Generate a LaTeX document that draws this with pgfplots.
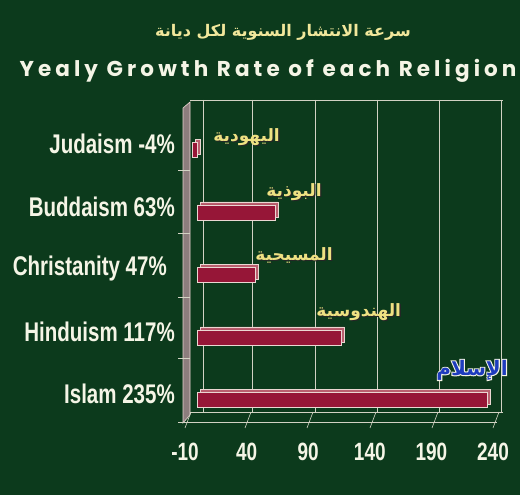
\documentclass[border=0pt]{standalone}
\usepackage{pgfplots}
\pgfplotsset{compat=1.18}
\usepackage{pgfplotstable}
\usepackage{fontspec}
\TeXXeTstate=1
\newfontfamily\nb[FakeStretch=0.76]{Liberation Sans}
\newfontfamily\titlefont[LetterSpace=19]{Poppins}
\newfontfamily\arabicfont[Script=Arabic]{DejaVu Sans}
\newfontfamily\arabichalo[Script=Arabic, FakeBold=10]{DejaVu Sans}

\definecolor{bg}{RGB}{12,58,28}
\definecolor{barfront}{RGB}{150,22,55}
\definecolor{bartop}{RGB}{185,95,110}
\definecolor{edge}{RGB}{235,215,210}
\definecolor{gridc}{RGB}{210,210,195}
\definecolor{wallc}{RGB}{140,125,125}
\definecolor{gold}{RGB}{238,225,130}
\definecolor{cream}{RGB}{245,245,230}
\definecolor{islamblue}{RGB}{30,60,190}

% growth rate per religion (position 0 = bottom bar)
\pgfplotstableread{
pos value
0 235
1 117
2 47
3 63
4 -4
}\growth

\newcommand\arfont{\arabicfont\bfseries\fontsize{17}{17}\selectfont}

% Arabic label with a dark drop shadow
\newcommand\arlabel[3]{%
  \node[text=black!85, font=\arfont]
    at ([xshift=1.3pt,yshift=-1.3pt]#1) {\beginR #3\endR};
  \node[text=#2, font=\arfont] at (#1) {\beginR #3\endR};}

\begin{document}
\begin{tikzpicture}
% background
\fill[bg] (0pt,0pt) rectangle (520pt,495pt);

% titles
\node[text=gold!80!white, font=\arabicfont\bfseries\fontsize{16}{16}\selectfont]
  at (283pt,463pt) {\beginR سرعة الانتشار السنوية لكل ديانة\endR};
\node[text=cream, font=\titlefont\bfseries\fontsize{21.5}{21.5}\selectfont]
  at (268pt,424pt) {Yealy Growth Rate of each Religion};

% 3D frame: left wall, back plane, floor
\filldraw[fill=wallc, draw=edge, line width=0.6pt]
  (183pt,72pt) -- (183pt,387pt) -- (190pt,393pt) -- (190pt,80pt) -- cycle;
\foreach \yy in {325,262,198,137}
  \draw[gridc, line width=0.6pt] (178pt,\yy pt) -- (190pt,\yy pt);
\draw[gridc, line width=0.8pt] (190pt,395pt) -- (503pt,395pt);
\foreach \xx in {203,252,315,377,439,501}
  \draw[gridc, line width=0.8pt] (\xx pt,395pt) -- (\xx pt,83pt);
\draw[gridc, line width=0.8pt] (190pt,83pt) -- (503pt,83pt);
\draw[gridc, line width=0.8pt] (178pt,73pt) -- (497pt,73pt);
\foreach \xx in {185,245,307,370,432,493}
  \draw[gridc, line width=0.6pt] (\xx pt,67pt) -- (\xx pt+6pt,83pt);

\begin{axis}[
  at={(185pt,75pt)}, anchor=south west,
  scale only axis, width=308pt, height=317pt,
  xmin=-10, xmax=240, ymin=-0.32, ymax=4.752,
  axis line style={draw=none}, major tick style={draw=none},
  xtick={-10,40,90,140,190,240},
  ytick={0,1,2,3,4},
  yticklabels={Islam 235\%, Hinduism 117\%, Christanity 47\%\kern8pt, Buddaism 63\%, Judaism -4\%},
  xticklabel style={font=\nb\bfseries\fontsize{25}{25}\selectfont, text=cream,
    inner sep=0pt, anchor=north, yshift=-23pt},
  yticklabel style={font=\nb\bfseries\fontsize{27}{27}\selectfont, text=cream,
    inner sep=0pt, anchor=east, xshift=-10pt, yshift=6pt},
  /pgf/number format/assume math mode=true,
  clip=false,
]
% depth face of each bar
\addplot[xbar, bar shift=0pt, bar width=15pt, fill=bartop, draw=edge,
  line width=0.6pt, xshift=3pt, yshift=3pt] table[x=value, y=pos] {\growth};
% front face of each bar
\addplot[xbar, bar shift=0pt, bar width=15pt, fill=barfront, draw=edge,
  line width=0.6pt] table[x=value, y=pos] {\growth};

\arlabel{axis cs:40,4.21}{gold}{اليهودية}
\arlabel{axis cs:78.5,3.33}{gold}{البوذية}
\arlabel{axis cs:78.5,2.32}{gold}{المسيحية}
\arlabel{axis cs:131,1.41}{gold}{الهندوسية}

% the top bar's label: blue over a light, emboldened copy
\node[text=cream, font=\arabichalo\bfseries\fontsize{20}{20}\selectfont]
  at (axis cs:223,0.48) {\beginR الإسلام\endR};
\node[text=islamblue, font=\arabicfont\bfseries\fontsize{20}{20}\selectfont]
  at (axis cs:223,0.48) {\beginR الإسلام\endR};
\end{axis}
\end{tikzpicture}
\end{document}
